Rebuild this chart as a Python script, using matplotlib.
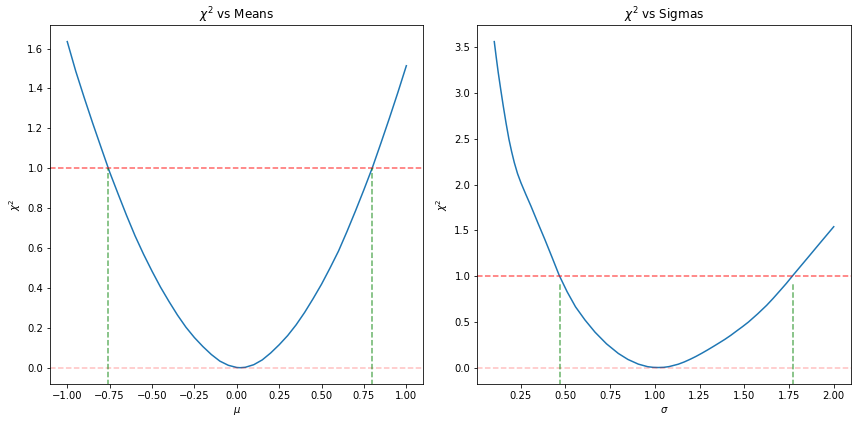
import matplotlib
matplotlib.use("Agg")
import matplotlib.pyplot as plt

# Left panel: chi^2 vs mean
means = [-1.00, -0.95, -0.90, -0.85, -0.80, -0.75, -0.70, -0.65, -0.60, -0.55,
         -0.50, -0.45, -0.40, -0.35, -0.30, -0.25, -0.20, -0.15, -0.10, -0.05,
         0.00, 0.02, 0.05, 0.10, 0.15, 0.20, 0.25, 0.30, 0.35, 0.40, 0.45, 0.50,
         0.55, 0.60, 0.65, 0.70, 0.75, 0.80, 0.85, 0.90, 0.95, 1.00]
chi2_means = [1.635, 1.487, 1.354, 1.226, 1.103, 0.981, 0.871, 0.763, 0.661, 0.569,
              0.484, 0.404, 0.332, 0.264, 0.203, 0.151, 0.106, 0.066, 0.033, 0.012,
              0.001, 0.000, 0.002, 0.015, 0.039, 0.074, 0.115, 0.161, 0.215, 0.277, 0.346, 0.419,
              0.500, 0.585, 0.683, 0.786, 0.893, 1.004, 1.126, 1.251, 1.380, 1.514]
mean_bounds = [-0.760, 0.795]

# Right panel: chi^2 vs sigma
sigmas = [0.103, 0.114, 0.125, 0.139, 0.153, 0.169, 0.185, 0.200, 0.215, 0.233,
          0.252, 0.280, 0.308, 0.347, 0.386, 0.426, 0.466, 0.510, 0.557, 0.610,
          0.666, 0.730, 0.796, 0.850, 0.908, 0.960, 0.990, 1.020, 1.050, 1.080,
          1.131, 1.165, 1.200, 1.230, 1.262, 1.295, 1.330, 1.360, 1.392, 1.425,
          1.460, 1.490, 1.523, 1.575, 1.625, 1.660, 1.700, 1.735, 1.768, 1.810,
          1.850, 1.885, 1.920, 1.960, 2.000]
chi2_sigmas = [3.562, 3.390, 3.226, 3.040, 2.861, 2.670, 2.495, 2.360, 2.240, 2.120,
               2.020, 1.890, 1.765, 1.580, 1.399, 1.205, 1.008, 0.830, 0.665, 0.521,
               0.388, 0.261, 0.156, 0.090, 0.039, 0.011, 0.004, 0.002, 0.004, 0.012,
               0.038, 0.063, 0.094, 0.123, 0.157, 0.194, 0.235, 0.271, 0.310, 0.354,
               0.405, 0.448, 0.498, 0.588, 0.681, 0.754, 0.842, 0.920, 0.999, 1.097,
               1.190, 1.272, 1.354, 1.447, 1.540]
sigma_bounds = [0.468, 1.770]

W, H, DPI = 856, 424, 72
fig = plt.figure(figsize=(W / DPI, H / DPI), dpi=DPI)
ax1 = fig.add_axes([50.3 / W, 40 / H, 373 / W, 358.7 / H])
ax2 = fig.add_axes([477.3 / W, 40 / H, 373.4 / W, 358.7 / H])

def panel(ax, x, y, bounds, vtop, title, xlabel):
    ax.plot(x, y, color="C0")
    ax.axhline(1, color="red", ls="--", alpha=0.6)
    ax.axhline(0, color="red", ls="--", alpha=0.25)
    ax.relim()
    ax.autoscale_view()
    lo, hi = ax.get_ylim()
    ax.set_ylim(lo, hi)
    for b in bounds:
        ax.vlines(b, lo - 1, vtop, color="green", ls="--", alpha=0.6)
    ax.set_title(title)
    ax.set_xlabel(xlabel)
    ax.set_ylabel(r"$\chi^2$")

panel(ax1, means, chi2_means, mean_bounds, 1.0, r"$\chi^2$ vs Means", r"$\mu$")
panel(ax2, sigmas, chi2_sigmas, sigma_bounds, 0.93, r"$\chi^2$ vs Sigmas", r"$\sigma$")

fig.savefig("out.png", dpi=DPI)
